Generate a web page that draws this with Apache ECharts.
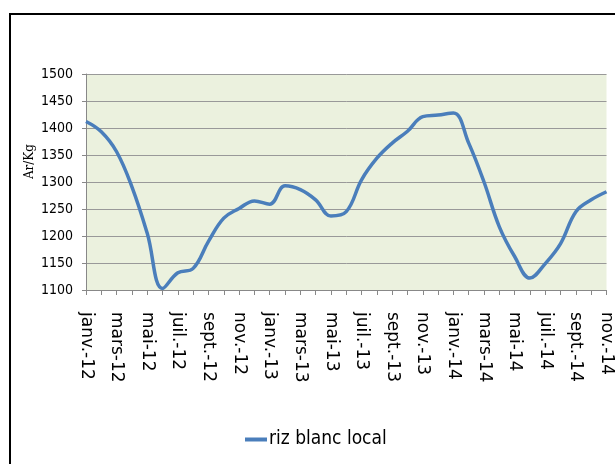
<!DOCTYPE html>
<html><head><meta charset="utf-8">
<script src="https://cdn.jsdelivr.net/npm/echarts@6/dist/echarts.min.js"></script>
<style>html,body{margin:0;padding:0;background:#fff}#c{width:615px;height:464px;position:relative}
#frame{position:absolute;left:9px;top:13px;width:620px;height:470px;border:2px solid #000;box-sizing:border-box;pointer-events:none}</style>
</head><body><div id="c"></div><div id="frame"></div>
<script>
const categories = ["janv.-12","févr.-12","mars-12","avr.-12","mai-12","juin-12","juil.-12","août-12","sept.-12","oct.-12","nov.-12","déc.-12",
"janv.-13","févr.-13","mars-13","avr.-13","mai-13","juin-13","juil.-13","août-13","sept.-13","oct.-13","nov.-13","déc.-13",
"janv.-14","févr.-14","mars-14","avr.-14","mai-14","juin-14","juil.-14","août-14","sept.-14","oct.-14","nov.-14"];
const rizBlancLocal = [1412,1393,1356,1291,1205,1103,1132,1140,1190,1233,1251,1265,
1259,1293,1286,1267,1237,1245,1304,1344,1372,1394,1421,1424,
1428,1372,1300,1217,1162,1122,1149,1186,1245,1267,1282];
const yTicks = {min:1100,max:1500,interval:50};
const narrow = 'DejaVu Sans Condensed, Liberation Sans Narrow, sans-serif';
const chart = echarts.init(document.getElementById('c'));
chart.setOption({
  animation:false,
  grid:{left:86,top:74,width:521,height:216,backgroundColor:'#EBF1DE',show:true,borderWidth:0},
  legend:{top:425,left:240,itemWidth:22,itemHeight:4,icon:'rect',itemGap:2,
    textStyle:{fontFamily:narrow,fontSize:19,color:'#000',padding:[0,0,0,-3]},
    data:['riz blanc local']},
  graphic:[{type:'text',left:24,top:144,rotation:Math.PI/2,
    style:{text:'Ar/Kg',font:'12px DejaVu Serif',fill:'#000'}}],
  xAxis:{type:'category',data:categories,boundaryGap:false,
    axisLine:{lineStyle:{color:'#888',width:1}},
    axisTick:{show:true,interval:0,length:5,lineStyle:{color:'#888'}},
    axisLabel:{interval:1,rotate:-90,margin:22,fontFamily:'DejaVu Sans',fontSize:17,color:'#000'},
    splitLine:{show:false}},
  yAxis:{type:'value',min:yTicks.min,max:yTicks.max,interval:yTicks.interval,
    axisLine:{show:true,lineStyle:{color:'#888'}},
    axisTick:{show:true,length:4,lineStyle:{color:'#888'}},
    axisLabel:{margin:13,fontFamily:narrow,fontSize:14,color:'#000',formatter:v=>String(v)},
    splitLine:{lineStyle:{color:'#999',width:1}}},
  series:[{name:'riz blanc local',type:'line',data:rizBlancLocal,smooth:0.4,symbol:'none',
    lineStyle:{color:'#4A7EBB',width:3.5},itemStyle:{color:'#4A7EBB'}}]
});
</script></body></html>
